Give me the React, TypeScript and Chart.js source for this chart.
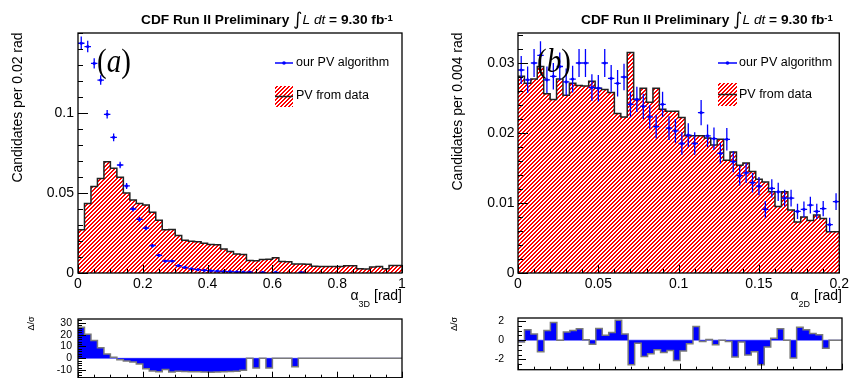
import React, { useEffect, useRef } from 'react';
import { Chart, registerables } from 'chart.js';

Chart.register(...registerables);

const W = 852;
const H = 390;
const FONT = "'Liberation Sans', Arial, Helvetica, sans-serif";
const SERIF = "'Liberation Serif', 'Times New Roman', serif";

// ---------------- Panel (a): alpha_3D, bins of 0.02 rad ----------------
const A_BIN = 0.02;
const A_DATA = [
  0.011, 0.027, 0.0435, 0.054, 0.059, 0.0696, 0.0654, 0.0598, 0.050, 0.0456,
  0.0435, 0.0425, 0.038, 0.033, 0.027, 0.0272, 0.0235, 0.0205, 0.0198, 0.0196,
  0.0186, 0.0178, 0.0176, 0.0150, 0.0134, 0.0118, 0.0116, 0.0078, 0.0077, 0.0085,
  0.0086, 0.0096, 0.0072, 0.0071, 0.0057, 0.0056, 0.0055, 0.0042, 0.0040, 0.0040,
  0.0040, 0.0041, 0.0045, 0.0046, 0.0026, 0.0025, 0.0038, 0.0040, 0.0026, 0.0047,
];
const A_PV = [
  0.1436, 0.1415, 0.131, 0.1206, 0.0992, 0.0848, 0.0675, 0.0544, 0.040, 0.0335,
  0.028, 0.0171, 0.011, 0.0075, 0.0075, 0.0046, 0.0035, 0.0026, 0.0021, 0.0017,
  0.0014, 0.0012, 0.0010, 0.0008, 0.0007, 0.0006, 0.0005, null, 0.0004, null,
  0.0004, null, null, null, 0.0003, null, null, null, null, null,
  null, null, null, null, null, null, null, null, null, null,
];
const A_PV_ERR = [
  0.0042, 0.0036, 0.0032, 0.0030, 0.0027, 0.0024, 0.0021, 0.0019, 0.0016, 0.0015,
  0.0013, 0.0011, 0.0009, 0.0007, 0.0007, 0.0006, 0.0005, 0.0004, 0.0004, 0.0003,
  0.0003, 0.0003, 0.0003, 0.0002, 0.0002, 0.0002, 0.0002, null, 0.0002, null,
  0.0002, null, null, null, 0.0002, null, null, null, null, null,
  null, null, null, null, null, null, null, null, null, null,
];
const A_RES = [
  31.9, 26.3, 20.4, 15.1, 8.9, 3.6, 0.9, -1.2, -2.3, -3.1,
  -4.9, -8.9, -10.8, -11.3, -9.5, -11.6, -11.0, -11.2, -11.4, -11.3,
  -11.6, -11.8, -11.6, -11.4, -11.2, -10.9, -10.2, 0, -8.1, 0,
  -8.1, 0, 0, 0, -7.1, 0, 0, 0, 0, 0,
  0, 0, 0, 0, 0, 0, 0, 0, 0, 0,
];
const A_X_TICKS = [0, 0.2, 0.4, 0.6, 0.8, 1];
const A_X_LABELS = ['0', '0.2', '0.4', '0.6', '0.8', '1'];
const A_Y_TICKS = [0, 0.05, 0.1];
const A_Y_LABELS = ['0', '0.05', '0.1'];
const A_RES_TICKS = [-10, 0, 10, 20, 30];
const A_RES_LABELS = ['-10', '0', '10', '20', '30'];

// ---------------- Panel (b): alpha_2D, bins of 0.004 rad ----------------
const B_BIN = 0.004;
const B_DATA = [
  0.0256, 0.0281, 0.0271, 0.0277, 0.0295, 0.0256, 0.0248, 0.0277, 0.0254, 0.0271,
  0.0268, 0.0267, 0.0274, 0.0264, 0.0262, 0.0258, 0.0228, 0.0223, 0.0315, 0.0248,
  0.0264, 0.0244, 0.0264, 0.0234, 0.0231, 0.0231, 0.0222, 0.0196, 0.0196, 0.0196,
  0.0193, 0.0183, 0.0191, 0.0161, 0.0173, 0.0154, 0.0157, 0.0145, 0.0134, 0.0130,
  0.0116, 0.0095, 0.0116, 0.0090, 0.0073, 0.0080, 0.0075, 0.0083, 0.0078, 0.0059,
];
const B_PV = [
  0.0290, 0.0276, 0.0300, 0.0311, 0.0276, 0.0281, 0.0295, 0.0273, 0.0277, 0.0300,
  0.0300, 0.0265, 0.0264, 0.0300, 0.0278, 0.0271, 0.0280, 0.0241, 0.0248, 0.0238,
  0.0223, 0.0209, 0.0241, 0.0207, 0.0203, 0.0185, 0.0197, 0.0185, 0.0229, 0.0196,
  0.0192, 0.0171, 0.0191, 0.0159, 0.0139, 0.0143, 0.0129, 0.0124, 0.0091, 0.0121,
  0.0116, 0.0107, 0.0107, 0.0088, 0.0091, 0.0097, 0.0088, 0.0092, 0.0069, 0.0102,
];
const B_PV_ERR = [
  0.0020, 0.0019, 0.0020, 0.0020, 0.0019, 0.0019, 0.0020, 0.0019, 0.0019, 0.0020,
  0.0020, 0.0019, 0.0019, 0.0020, 0.0019, 0.0019, 0.0019, 0.0018, 0.0018, 0.0018,
  0.0017, 0.0017, 0.0018, 0.0017, 0.0017, 0.0016, 0.0017, 0.0016, 0.0018, 0.0016,
  0.0016, 0.0015, 0.0016, 0.0015, 0.0014, 0.0014, 0.0014, 0.0013, 0.0012, 0.0013,
  0.0013, 0.0012, 0.0012, 0.0011, 0.0011, 0.0012, 0.0011, 0.0011, 0.0010, 0.0012,
];
const B_RES = [
  1.27, -0.2, 1.07, 0.65, -1.2, 0.99, 1.84, 0, 0.85, 0.99,
  1.19, 0.05, -0.42, 1.21, 0.5, 0.8, 2.06, 0.65, -2.54, -0.33,
  -1.7, -1.41, -0.99, -1.27, -1.07, -2.12, -1.13, -0.37, 1.41, -0.14,
  0.08, -0.48, 0, -0.14, -1.75, -0.2, -1.55, -1.21, -2.54, -0.7,
  0.2, 1.19, 0, -1.84, 1.33, 1.07, 0.7, 0.56, -0.85, 0,
];
const B_X_TICKS = [0, 0.05, 0.1, 0.15, 0.2];
const B_X_LABELS = ['0', '0.05', '0.1', '0.15', '0.2'];
const B_Y_TICKS = [0, 0.01, 0.02, 0.03];
const B_Y_LABELS = ['0', '0.01', '0.02', '0.03'];
const B_RES_TICKS = [-2, 0, 2];
const B_RES_LABELS = ['-2', '0', '2'];

const LEGEND_PV = 'our PV algorithm';
const LEGEND_DATA = 'PV from data';

// ---------------- helpers ----------------
function stepPoints(vals: number[], bin: number) {
  const pts = vals.map((v, i) => ({ x: i * bin, y: v }));
  pts.push({ x: vals.length * bin, y: vals[vals.length - 1] });
  return pts;
}
function centerPoints(vals: (number | null)[], bin: number) {
  const pts: { x: number; y: number }[] = [];
  vals.forEach((v, i) => {
    if (v !== null) pts.push({ x: (i + 0.5) * bin, y: v });
  });
  return pts;
}

// red "////" hatch, built pixel by pixel (4 px period, 2 px red stripes)
function hatch(ctx: CanvasRenderingContext2D): CanvasPattern {
  const c = document.createElement('canvas');
  c.width = 4;
  c.height = 4;
  const g = c.getContext('2d')!;
  g.fillStyle = '#ffffff';
  g.fillRect(0, 0, 4, 4);
  g.fillStyle = '#ff0000';
  for (let x = 0; x < 4; x++) {
    for (let y = 0; y < 4; y++) {
      const d = (x + y) % 4;
      if (d === 2 || d === 3) g.fillRect(x, y, 1, 1);
    }
  }
  return ctx.createPattern(c, 'repeat')!;
}

type Run = { t: string; f: string; dy?: number };
function drawRuns(ctx: CanvasRenderingContext2D, runs: Run[], x: number, y: number, align: 'left' | 'right') {
  ctx.save();
  ctx.fillStyle = '#000';
  ctx.textBaseline = 'alphabetic';
  ctx.textAlign = 'left';
  let total = 0;
  for (const r of runs) {
    ctx.font = r.f;
    total += ctx.measureText(r.t).width;
  }
  let cx = align === 'right' ? x - total : x;
  for (const r of runs) {
    ctx.font = r.f;
    ctx.fillText(r.t, cx, y + (r.dy || 0));
    cx += ctx.measureText(r.t).width;
  }
  ctx.restore();
}
function drawRotated(ctx: CanvasRenderingContext2D, text: string, font: string, cx: number, cy: number) {
  ctx.save();
  ctx.translate(cx, cy);
  ctx.rotate(-Math.PI / 2);
  ctx.font = font;
  ctx.fillStyle = '#000';
  ctx.textAlign = 'center';
  ctx.textBaseline = 'middle';
  ctx.fillText(text, 0, 0);
  ctx.restore();
}
function titleRuns(): Run[] {
  return [
    { t: 'CDF Run II Preliminary ', f: `bold 13.7px ${FONT}` },
    { t: '\u222B', f: `18px 'DejaVu Sans', sans-serif`, dy: 1 },
    { t: 'L', f: `italic 13.7px ${FONT}` },
    { t: ' dt', f: `italic 13.7px ${FONT}` },
    { t: ' = 9.30 fb', f: `bold 13.7px ${FONT}` },
    { t: '-1', f: `bold 9.5px ${FONT}`, dy: -3 },
  ];
}
function drawPanelLabel(ctx: CanvasRenderingContext2D, letter: string, x: number, y: number) {
  ctx.save();
  ctx.translate(x, y);
  ctx.scale(1, 1.15);
  drawRuns(ctx, [
    { t: '(', f: `29px ${SERIF}` },
    { t: letter, f: `italic 29px ${SERIF}` },
    { t: ')', f: `29px ${SERIF}` },
  ], 0, 0, 'left');
  ctx.restore();
}
function drawLegend(ctx: CanvasRenderingContext2D, x0: number, x1: number, lineY: number, boxT: number, boxB: number, textX: number, t1Y: number, t2Y: number) {
  ctx.save();
  ctx.strokeStyle = '#0000ff';
  ctx.lineWidth = 1.5;
  ctx.beginPath();
  ctx.moveTo(x0, lineY);
  ctx.lineTo(x1, lineY);
  ctx.stroke();
  ctx.fillStyle = '#0000ff';
  ctx.beginPath();
  ctx.arc((x0 + x1) / 2, lineY, 1.8, 0, Math.PI * 2);
  ctx.fill();
  ctx.fillStyle = hatch(ctx);
  ctx.fillRect(x0, boxT, x1 - x0, boxB - boxT);
  ctx.strokeStyle = '#222';
  ctx.beginPath();
  const my = (boxT + boxB) / 2;
  ctx.moveTo(x0, my);
  ctx.lineTo(x1, my);
  ctx.stroke();
  ctx.fillStyle = '#000';
  ctx.font = `12.5px ${FONT}`;
  ctx.textAlign = 'left';
  ctx.textBaseline = 'middle';
  ctx.fillText(LEGEND_PV, textX, t1Y);
  ctx.fillText(LEGEND_DATA, textX, t2Y);
  ctx.restore();
}

type Panel = {
  area: [number, number, number, number];
  xAxisH: number;
  xRange: [number, number];
  yRange: [number, number];
  xTicks: number[];
  xLabels: string[] | null;
  yTicks: number[];
  yLabels: string[];
  font: number;
  xPad: number;
  yPad: number;
  xMinor: number;
  yMinor: number;
  xLen: [number, number];
  yLen: [number, number];
  datasets: (ctx: CanvasRenderingContext2D) => any[];
  errors?: { vals: (number | null)[]; errs: (number | null)[]; bin: number };
  zeroLine?: boolean;
  decorate?: (ctx: CanvasRenderingContext2D) => void;
};

function drawTicks(chart: any, p: Panel) {
  const { ctx, chartArea: a } = chart;
  const xs = chart.scales.x;
  const ys = chart.scales.y;
  ctx.save();
  ctx.strokeStyle = '#000';
  ctx.lineWidth = 1;
  ctx.beginPath();
  const eps = 1e-9;
  for (let k = Math.ceil(p.yRange[0] / p.yMinor - eps); k * p.yMinor <= p.yRange[1] + eps; k++) {
    const v = k * p.yMinor;
    const major = p.yTicks.some((t) => Math.abs(t - v) < 1e-7);
    const py = Math.round(ys.getPixelForValue(v)) + 0.5;
    ctx.moveTo(a.left, py);
    ctx.lineTo(a.left + (major ? p.yLen[0] : p.yLen[1]), py);
  }
  for (let k = Math.ceil(p.xRange[0] / p.xMinor - eps); k * p.xMinor <= p.xRange[1] + eps; k++) {
    const v = k * p.xMinor;
    const major = p.xTicks.some((t) => Math.abs(t - v) < 1e-7);
    const px = Math.round(xs.getPixelForValue(v)) + 0.5;
    ctx.moveTo(px, a.bottom);
    ctx.lineTo(px, a.bottom - (major ? p.xLen[0] : p.xLen[1]));
  }
  ctx.stroke();
  ctx.lineWidth = 1.3;
  ctx.strokeRect(a.left, a.top, a.right - a.left, a.bottom - a.top);
  ctx.restore();
}

function buildPanel(canvas: HTMLCanvasElement, p: Panel) {
  const [l, t, r, b] = p.area;
  const tickFont = { family: FONT, size: p.font };
  const ctx2d = canvas.getContext('2d')!;
  return new Chart(canvas, {
    type: 'line',
    data: { datasets: p.datasets(ctx2d) },
    options: {
      responsive: false,
      animation: false,
      events: [],
      layout: { padding: { left: 0, top: t, right: W - r, bottom: H - b - p.xAxisH } },
      plugins: { legend: { display: false }, title: { display: false }, tooltip: { enabled: false } },
      scales: {
        x: {
          type: 'linear',
          min: p.xRange[0],
          max: p.xRange[1],
          grid: { display: false, drawTicks: false },
          border: { display: false },
          afterFit: (s: any) => { s.height = p.xAxisH; },
          afterBuildTicks: (s: any) => { s.ticks = p.xTicks.map((v) => ({ value: v })); },
          ticks: {
            display: !!p.xLabels,
            autoSkip: false,
            maxRotation: 0,
            minRotation: 0,
            padding: p.xPad,
            color: '#000',
            font: tickFont,
            callback: (_v: any, i: number) => (p.xLabels ? p.xLabels[i] : ''),
          },
        },
        y: {
          type: 'linear',
          min: p.yRange[0],
          max: p.yRange[1],
          grid: { display: false, drawTicks: false },
          border: { display: false },
          afterFit: (s: any) => { s.width = l; },
          afterBuildTicks: (s: any) => { s.ticks = p.yTicks.map((v) => ({ value: v })); },
          ticks: {
            autoSkip: false,
            padding: p.yPad,
            color: '#000',
            font: tickFont,
            callback: (_v: any, i: number) => p.yLabels[i],
          },
        },
      },
    } as any,
    plugins: [
      {
        id: 'panelDecor',
        beforeDatasetsDraw(chart: any) {
          if (!p.zeroLine) return;
          const { ctx, chartArea: a } = chart;
          const py = chart.scales.y.getPixelForValue(0);
          ctx.save();
          ctx.strokeStyle = '#8080ff';
          ctx.lineWidth = 1;
          ctx.beginPath();
          ctx.moveTo(a.left, py);
          ctx.lineTo(a.right, py);
          ctx.stroke();
          ctx.restore();
        },
        afterDatasetsDraw(chart: any) {
          if (!p.errors) return;
          const { ctx, chartArea: a } = chart;
          const xs = chart.scales.x;
          const ys = chart.scales.y;
          const e = p.errors;
          ctx.save();
          ctx.beginPath();
          ctx.rect(a.left, a.top, a.right - a.left, a.bottom - a.top);
          ctx.clip();
          ctx.strokeStyle = '#0000ff';
          ctx.lineWidth = 1.3;
          ctx.beginPath();
          e.vals.forEach((v, i) => {
            if (v === null) return;
            const err = e.errs[i] || 0;
            const py = ys.getPixelForValue(v);
            const pc = xs.getPixelForValue((i + 0.5) * e.bin);
            ctx.moveTo(xs.getPixelForValue(i * e.bin), py);
            ctx.lineTo(xs.getPixelForValue((i + 1) * e.bin), py);
            ctx.moveTo(pc, ys.getPixelForValue(v - err));
            ctx.lineTo(pc, ys.getPixelForValue(v + err));
          });
          ctx.stroke();
          ctx.restore();
        },
        afterDraw(chart: any) {
          drawTicks(chart, p);
          if (p.decorate) p.decorate(chart.ctx);
        },
      },
    ],
  });
}

function mainDatasets(data: number[], pv: (number | null)[], bin: number) {
  return (ctx: CanvasRenderingContext2D) => [
    {
      type: 'scatter',
      data: centerPoints(pv, bin),
      pointRadius: 1.6,
      pointBackgroundColor: '#0000ff',
      pointBorderWidth: 0,
      showLine: false,
    },
    {
      type: 'line',
      data: stepPoints(data, bin),
      stepped: 'after',
      fill: 'origin',
      backgroundColor: hatch(ctx),
      borderColor: '#222',
      borderWidth: 1.5,
      pointRadius: 0,
    },
  ];
}
function resDatasets(res: number[], bin: number) {
  return (_ctx: CanvasRenderingContext2D) => [
    {
      type: 'line',
      data: stepPoints(res, bin),
      stepped: 'after',
      fill: 'origin',
      backgroundColor: '#0000ff',
      borderColor: '#7a7a7a',
      borderWidth: 1.5,
      pointRadius: 0,
    },
  ];
}

const buildAMain = (c: HTMLCanvasElement) =>
  buildPanel(c, {
    area: [78, 33, 402, 273],
    xAxisH: 30,
    xRange: [0, 1],
    yRange: [0, 0.15],
    xTicks: A_X_TICKS,
    xLabels: A_X_LABELS,
    yTicks: A_Y_TICKS,
    yLabels: A_Y_LABELS,
    font: 14,
    xPad: 3,
    yPad: 4,
    xMinor: 0.05,
    yMinor: 0.01,
    xLen: [8, 4],
    yLen: [10, 5],
    datasets: mainDatasets(A_DATA, A_PV, A_BIN),
    errors: { vals: A_PV, errs: A_PV_ERR, bin: A_BIN },
    decorate: (ctx) => {
      drawRuns(ctx, titleRuns(), 141, 24, 'left');
      drawRotated(ctx, 'Candidates per 0.02 rad', `14px ${FONT}`, 18.5, 107.5);
      drawRuns(ctx, [
        { t: '\u03B1', f: `14px ${FONT}` },
        { t: '3D', f: `9px ${FONT}`, dy: 7 },
        { t: ' [rad]', f: `14px ${FONT}` },
      ], 402, 300, 'right');
      drawLegend(ctx, 275, 293, 63, 86, 107, 296, 63, 96);
      drawPanelLabel(ctx, 'a', 97, 72);
    },
  });

const buildARes = (c: HTMLCanvasElement) =>
  buildPanel(c, {
    area: [78, 319, 402, 381],
    xAxisH: 0,
    xRange: [0, 1],
    yRange: [-16.4, 33.2],
    xTicks: A_X_TICKS,
    xLabels: null,
    yTicks: A_RES_TICKS,
    yLabels: A_RES_LABELS,
    font: 10.5,
    xPad: 3,
    yPad: 6,
    xMinor: 0.05,
    yMinor: 2,
    xLen: [6, 3],
    yLen: [8, 4],
    datasets: resDatasets(A_RES, A_BIN),
    zeroLine: true,
    decorate: (ctx) => {
      drawRotated(ctx, '\u0394/\u03C3', `9px ${FONT}`, 32, 323.5);
    },
  });

const buildBMain = (c: HTMLCanvasElement) =>
  buildPanel(c, {
    area: [518, 33, 842, 273],
    xAxisH: 30,
    xRange: [0, 0.2],
    yRange: [0, 240 / 7000],
    xTicks: B_X_TICKS,
    xLabels: B_X_LABELS,
    yTicks: B_Y_TICKS,
    yLabels: B_Y_LABELS,
    font: 14,
    xPad: 3,
    yPad: 3.5,
    xMinor: 0.01,
    yMinor: 0.002,
    xLen: [8, 4],
    yLen: [10, 5],
    datasets: mainDatasets(B_DATA, B_PV, B_BIN),
    errors: { vals: B_PV, errs: B_PV_ERR, bin: B_BIN },
    decorate: (ctx) => {
      drawRuns(ctx, titleRuns(), 581, 24, 'left');
      drawRotated(ctx, 'Candidates per 0.004 rad', `14px ${FONT}`, 458.5, 111.5);
      drawRuns(ctx, [
        { t: '\u03B1', f: `14px ${FONT}` },
        { t: '2D', f: `9px ${FONT}`, dy: 7 },
        { t: ' [rad]', f: `14px ${FONT}` },
      ], 842, 300, 'right');
      drawLegend(ctx, 718, 737, 63, 83, 106, 739, 63, 95);
      drawPanelLabel(ctx, 'b', 537, 72);
    },
  });

const buildBRes = (c: HTMLCanvasElement) =>
  buildPanel(c, {
    area: [518, 318, 842, 381],
    xAxisH: 0,
    xRange: [0, 0.2],
    yRange: [-36 / 11.75, 27 / 11.75],
    xTicks: B_X_TICKS,
    xLabels: null,
    yTicks: B_RES_TICKS,
    yLabels: B_RES_LABELS,
    font: 10.5,
    xPad: 3,
    yPad: 14,
    xMinor: 0.01,
    yMinor: 0.5,
    xLen: [6, 3],
    yLen: [8, 4],
    datasets: resDatasets(B_RES, B_BIN),
    zeroLine: true,
    decorate: (ctx) => {
      drawRotated(ctx, '\u0394/\u03C3', `9px ${FONT}`, 455, 324);
    },
  });

function ChartCanvas({ build }: { build: (c: HTMLCanvasElement) => Chart }) {
  const ref = useRef<HTMLCanvasElement>(null);
  useEffect(() => {
    const chart = build(ref.current!);
    return () => chart.destroy();
  }, [build]);
  return (
    <canvas
      ref={ref}
      width={W}
      height={H}
      style={{ position: 'absolute', left: 0, top: 0, width: W, height: H }}
    />
  );
}

export default function App() {
  return (
    <div
      style={{
        position: 'fixed',
        left: 0,
        top: 0,
        width: 852,
        height: 378,
        overflow: 'hidden',
        background: '#fff',
      }}
    >
      <ChartCanvas build={buildAMain} />
      <ChartCanvas build={buildARes} />
      <ChartCanvas build={buildBMain} />
      <ChartCanvas build={buildBRes} />
    </div>
  );
}
